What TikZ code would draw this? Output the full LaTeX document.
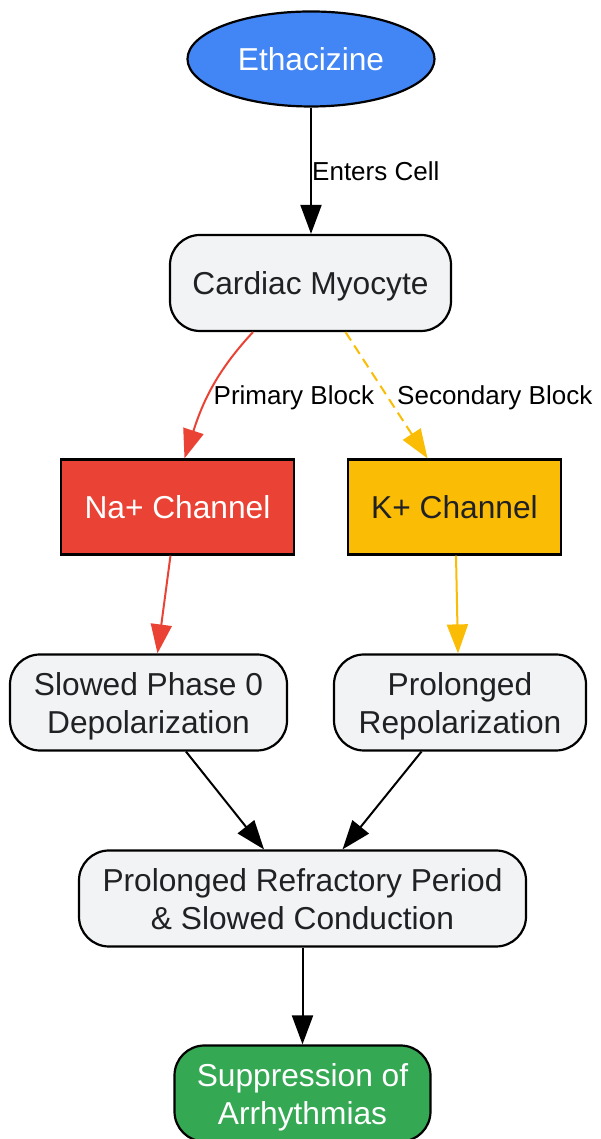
\documentclass[tikz,border=0pt]{standalone}
\usepackage{fontspec}
\setmainfont{Liberation Sans}
\usetikzlibrary{arrows.meta,shapes.geometric}
\definecolor{gblue}{HTML}{4285F4}
\definecolor{gred}{HTML}{EA4335}
\definecolor{gyellow}{HTML}{FBBC05}
\definecolor{ggreen}{HTML}{34A853}
\definecolor{glight}{HTML}{F1F3F4}
\definecolor{gtext}{HTML}{202124}
\newcommand{\onelinetxt}[1]{\rule[-8pt]{0pt}{39pt}#1}
\newcommand{\twolinetxt}[2]{\rule{0pt}{31.9pt}#1\\\rule[-8pt]{0pt}{8pt}#2}
\tikzset{
  nodebase/.style={draw=black, line width=2.2pt, inner sep=0pt, align=center,
    font=\fontsize{31.7}{37.6}\selectfont},
  roundbox/.style={nodebase, rectangle, rounded corners=30pt, fill=glight, text=gtext},
  flatbox/.style={nodebase, rectangle},
  edgelabel/.style={inner sep=0pt, anchor=base west, text=black,
    font=\fontsize{26}{30}\selectfont},
  conn/.style={line width=2pt, -{Triangle[length=29pt,width=21pt]}},
}
\begin{document}
\begin{tikzpicture}[x=1pt,y=1pt]
\useasboundingbox (0,0) rectangle (600,1139);
% nodes
\node[nodebase, ellipse, fill=gblue, text=white, minimum width=247pt, minimum height=95pt] (eth) at (311,1080) {\onelinetxt{Ethacizine}};
\node[roundbox, minimum width=281pt, minimum height=96pt] (cm) at (310.5,856) {\onelinetxt{Cardiac Myocyte}};
\node[flatbox, fill=gred, text=white, minimum width=233pt, minimum height=95pt] (na) at (177.5,632) {\onelinetxt{Na+ Channel}};
\node[flatbox, fill=gyellow, text=gtext, minimum width=213pt, minimum height=95pt] (k) at (454.5,632) {\onelinetxt{K+ Channel}};
\node[roundbox, minimum width=277pt, minimum height=96pt] (slow) at (148.5,436.5) {\twolinetxt{Slowed Phase 0}{Depolarization}};
\node[roundbox, minimum width=252pt, minimum height=96pt] (prol) at (460,436.5) {\twolinetxt{Prolonged}{Repolarization}};
\node[roundbox, minimum width=447pt, minimum height=96pt] (ref) at (302.5,240.5) {\twolinetxt{Prolonged Refractory Period}{\& Slowed Conduction}};
\node[roundbox, fill=ggreen, text=white, minimum width=256pt, minimum height=96pt] (supp) at (302.5,45.5) {\twolinetxt{Suppression of}{Arrhythmias}};
% connectors
\draw[conn, black] (eth.south) -- (eth.south |- cm.north);
\node[edgelabel] (l1) at (312,958) {Enters Cell};
\draw[conn, gred] ([xshift=-57.5pt]cm.south) to[out=-133,in=72] ([xshift=7pt]na.north);
\node[edgelabel] (l2) at (213.5,734) {Primary Block};
\draw[conn, gyellow, dash pattern=on 10pt off 6pt] ([xshift=35pt]cm.south) -- ([xshift=-27pt]k.north);
\node[edgelabel] (l3) at (397,734) {Secondary Block};
\draw[conn, gred] ([xshift=-7pt]na.south) -- ([xshift=9pt]slow.north);
\draw[conn, gyellow] ([xshift=1.5pt]k.south) -- ([xshift=-2pt]prol.north);
\draw[conn, black] ([xshift=37.5pt]slow.south) -- ([xshift=-38.5pt]ref.north);
\draw[conn, black] ([xshift=-38.5pt]prol.south) -- ([xshift=40pt]ref.north);
\draw[conn, black] (ref) -- (supp);
\end{tikzpicture}
\end{document}
